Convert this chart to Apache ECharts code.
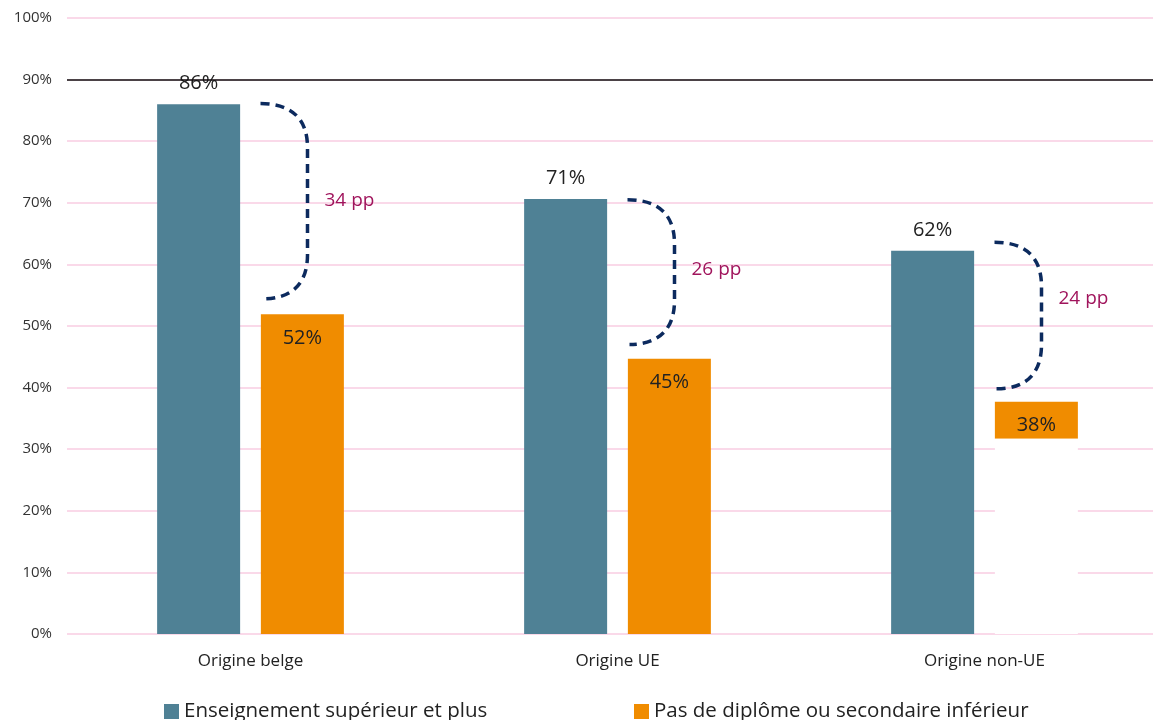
<!DOCTYPE html>
<html>
<head>
<meta charset="utf-8">
<script src="https://cdn.jsdelivr.net/npm/echarts@6/dist/echarts.min.js"></script>
<style>html,body{margin:0;padding:0;background:#fff;}#c{width:1153px;height:720px;}</style>
</head>
<body>
<div id="c"></div>
<script>
var categories = ['Origine belge', 'Origine UE', 'Origine non-UE'];
var seriesNames = ['Enseignement supérieur et plus', 'Pas de diplôme ou secondaire inférieur'];
var superieur = [86.0, 70.6, 62.2];
var sansDiplome = [51.9, 44.7, 37.7];
// white hidden portion at the bottom of the last orange bar, as seen in the picture
var masque = [0, 0, 31.7];
// braces: [category index, top value, bottom value, label value, label]
var braces = [
  [0, 86.1, 54.4, 70.3, '34 pp'],
  [1, 70.5, 47.0, 59.1, '26 pp'],
  [2, 63.6, 39.8, 54.4, '24 pp']
];
var refLine = 90;
var yTicks = [0, 10, 20, 30, 40, 50, 60, 70, 80, 90, 100];

var chart = echarts.init(document.getElementById('c'));
var font = '"Open Sans", "Liberation Sans", sans-serif';
var orangeTop = sansDiplome.map(function (v, i) { return v - masque[i]; });

chart.setOption({
  animation: false,
  grid: { left: 67, top: 18, bottom: 86, right: -15, containLabel: false, outerBoundsMode: 'none' },
  legend: [
    { data: [seriesNames[0]], left: 159, top: 696, itemWidth: 15, itemHeight: 15, icon: 'rect',
      textStyle: { fontFamily: font, fontSize: 20.5, color: '#222' } },
    { data: [seriesNames[1]], left: 629, top: 696, itemWidth: 15, itemHeight: 15, icon: 'rect',
      textStyle: { fontFamily: font, fontSize: 20.5, color: '#222' } }
  ],
  xAxis: {
    type: 'category', data: categories,
    axisLine: { show: false }, axisTick: { show: false },
    axisLabel: { fontFamily: font, fontSize: 17, color: '#222', margin: 19 }
  },
  yAxis: {
    type: 'value', min: 0, max: 100, interval: 10,
    axisLabel: { formatter: '{value}%', fontFamily: font, fontSize: 15, color: '#333', margin: 15 },
    splitLine: { lineStyle: { color: '#f8cde2', width: 1.5 } },
    axisLine: { show: false }, axisTick: { show: false }
  },
  series: [
    {
      name: seriesNames[0], type: 'bar', data: superieur, barWidth: 83, barGap: '25%',
      itemStyle: { color: '#4f8195' },
      label: { show: true, position: 'top', distance: 11, fontFamily: font, fontSize: 20, color: '#222',
        formatter: function (p) { return Math.round(p.value) + '%'; } },
      markLine: { silent: true, symbol: 'none', label: { show: false },
        lineStyle: { color: '#111', width: 1.5, type: 'solid' }, data: [{ yAxis: refLine }] }
    },
    {
      name: 'masque', type: 'bar', stack: 'b', data: masque, barWidth: 83,
      itemStyle: { color: '#ffffff' }, z: 3
    },
    {
      name: seriesNames[1], type: 'bar', stack: 'b', data: orangeTop, barWidth: 83,
      itemStyle: { color: '#f08c00' },
      label: { show: true, position: 'insideTop', distance: 14, fontFamily: font, fontSize: 20, color: '#222',
        formatter: function (p) { return Math.round(sansDiplome[p.dataIndex]) + '%'; } }
    },
    {
      type: 'custom', data: braces, z: 5,
      renderItem: function (params, api) {
        var c = api.value(0);
        var pt = api.coord([c, api.value(1)]);
        var pb = api.coord([c, api.value(2)]);
        var pl = api.coord([c, api.value(3)]);
        var x0 = pt[0] + 10, x1 = pt[0] + 57;
        var yT = pt[1], yB = pb[1], r = 44;
        var d = 'M' + x0 + ' ' + yT +
          ' C' + (x0 + 30) + ' ' + yT + ' ' + x1 + ' ' + (yT + 14) + ' ' + x1 + ' ' + (yT + r) +
          ' L' + x1 + ' ' + (yB - r) +
          ' C' + x1 + ' ' + (yB - 14) + ' ' + (x0 + 30) + ' ' + yB + ' ' + (x0 + 2) + ' ' + yB;
        return {
          type: 'group',
          children: [
            { type: 'path', shape: { pathData: d },
              style: { fill: 'none', stroke: '#0c2a5e', lineWidth: 3.5, lineDash: [9, 6] } },
            { type: 'text', x: pt[0] + 74, y: pl[1],
              style: { text: braces[params.dataIndex][4], fill: '#a0145c', font: '19px ' + font,
                textVerticalAlign: 'middle', verticalAlign: 'middle' } }
          ]
        };
      }
    }
  ]
});
</script>
</body>
</html>
